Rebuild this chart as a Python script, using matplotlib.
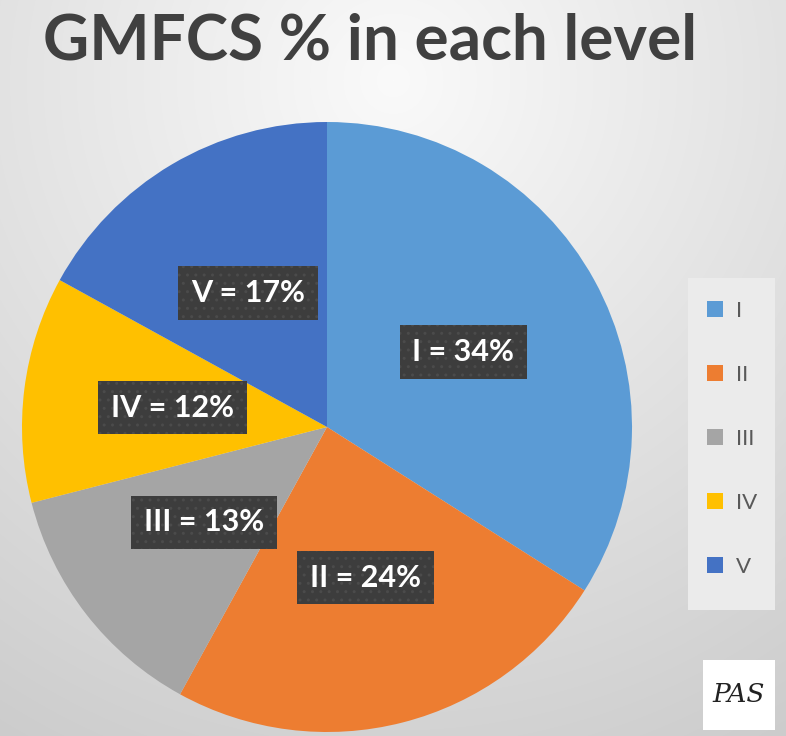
import numpy as np
import matplotlib
matplotlib.use("Agg")
import matplotlib.pyplot as plt
from matplotlib.patches import Patch, Rectangle

# ---- data ----
categories = ["I", "II", "III", "IV", "V"]
values = [34, 24, 13, 12, 17]
colors = ["#5B9BD5", "#ED7D31", "#A5A5A5", "#FFC000", "#4472C4"]
title = "GMFCS % in each level"
signature = "PAS"

W, H = 786, 736
fig = plt.figure(figsize=(W / 100, H / 100), dpi=100)

# background radial gradient
bg = fig.add_axes([0, 0, 1, 1])
yy, xx = np.mgrid[0:H, 0:W]
dist = np.sqrt((xx - 393) ** 2 + (yy - 80) ** 2)
val = np.clip(250 - 0.06 * dist, 190, 252) / 255.0
bg.imshow(np.dstack([val, val, val]), extent=[0, W, H, 0], aspect="auto")
bg.set_xlim(0, W)
bg.set_ylim(H, 0)
bg.axis("off")
# legend panel and signature panel
bg.add_patch(Rectangle((688, 278), 87, 332, facecolor="#ebebeb", edgecolor="none"))
bg.add_patch(Rectangle((703, 660), 72, 70, facecolor="white", edgecolor="none"))

# title
fig.text(370 / W, 1 - 41 / H, title, ha="center", va="center",
         fontsize=46, fontweight="bold", color="#404040", family="Lato")

# pie
cx, cy, r = 327, 427, 305
ax = fig.add_axes([(cx - r) / W, (H - cy - r) / H, 2 * r / W, 2 * r / H])
wedges, texts, autotexts = ax.pie(values, colors=colors, startangle=90,
                                  counterclock=False, autopct="%1.0f%%",
                                  pctdistance=0.51,
                                  wedgeprops=dict(linewidth=0))
for t, c, v in zip(autotexts, categories, values):
    t.set_text(f"{c} = {v}%")
    t.set_color("white")
    t.set_fontsize(22)
    t.set_fontweight("bold")
    t.set_family("Lato")
    t.set_bbox(dict(boxstyle="square,pad=0.42", facecolor="#3d3d3d",
                    edgecolor="#4b4b4b", linewidth=0, hatch=".."))
ax.set_xlim(-1, 1)
ax.set_ylim(-1, 1)
ax.set_aspect("auto")
ax.axis("off")

# legend
handles = [Patch(facecolor=c, edgecolor="none") for c in colors]
leg = fig.legend(handles, categories, loc="center left",
                 bbox_to_anchor=(700 / W, 1 - 439 / H),
                 frameon=False, labelspacing=1.98,
                 handlelength=0.75, handleheight=0.75, handletextpad=0.55,
                 borderpad=0.3, borderaxespad=0,
                 prop=dict(family="Lato", size=16))
for t in leg.get_texts():
    t.set_color("#595959")

# signature
fig.text(739 / W, 1 - 695 / H, signature, ha="center", va="center",
         fontsize=19, style="italic", family="DejaVu Serif", color="#222222")

fig.savefig("out.png", dpi=100)
